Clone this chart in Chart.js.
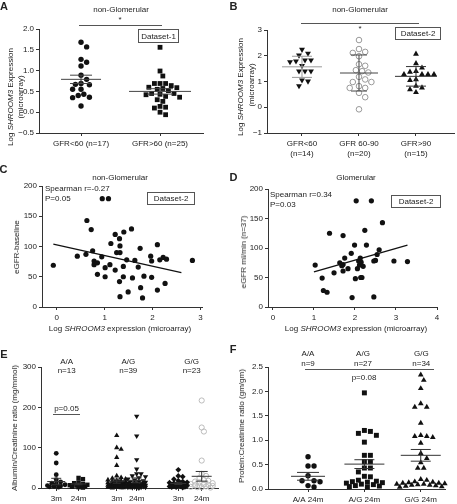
<!DOCTYPE html>
<html lang="en">
<head>
<meta charset="UTF-8">
<title>SHROOM3 expression panels</title>
<script src="https://cdn.jsdelivr.net/npm/chart.js"></script>
<style>
  body { margin: 0; width: 457px; height: 504px; position: relative; background: #fff; overflow: hidden;
         font-family: "Liberation Sans", Arial, sans-serif; color: #222; }
  canvas { position: absolute; }
  .t { position: absolute; font-size: 8px; line-height: 1; white-space: nowrap; transform: translate(-50%, -50%); }
  .tl { position: absolute; font-size: 8px; line-height: 1; white-space: nowrap; transform: translate(0, -50%); }
  .lbl { position: absolute; font-size: 11px; font-weight: bold; line-height: 1; transform: translate(-50%, -50%); }
  .rot { position: absolute; font-size: 8px; line-height: 1; white-space: nowrap; transform: translate(-50%, -50%) rotate(-90deg); }
  .box { position: absolute; border: 1px solid #555; font-size: 8px; box-sizing: border-box;
         display: flex; align-items: center; justify-content: center; }
  .bar { position: absolute; height: 0; border-top: 1px solid #555; }
</style>
</head>
<body>
<script>
// ---------- data ----------
// A: non-glomerular, dataset 1
const aCats = ['GFR<60 (n=17)', 'GFR>60 (n=25)'];
const aLow = [1.68, 1.57, 1.27, 1.20, 1.11, 0.89, 0.79, 0.66, 0.67, 0.69, 0.55, 0.55, 0.43, 0.40, 0.36, 0.35, 0.15];
const aHigh = [1.56, 0.99, 0.87, 0.69, 0.69, 0.69, 0.64, 0.60, 0.59, 0.57, 0.55, 0.52, 0.45, 0.45, 0.43,
               0.42, 0.38, 0.36, 0.30, 0.26, 0.14, 0.12, 0.10, 0.00, -0.06];
const aMean = [0.79, 0.50];
const aSem = [0.10, 0.065];

// B: non-glomerular, dataset 2
const bCats = [['GFR<60', '(n=14)'], ['GFR 60-90', '(n=20)'], ['GFR>90', '(n=15)']];
const bLow = [2.24, 2.09, 2.02, 1.83, 1.79, 1.83, 1.76, 1.61, 1.40, 1.40, 1.40, 1.05, 1.01, 0.83];
const bMid = [2.61, 2.26, 2.11, 2.15, 1.98, 1.67, 1.61, 1.44, 1.40, 1.35, 1.18, 1.08, 0.98, 0.98, 0.82,
              0.75, 0.75, 0.56, 0.39, -0.08];
const bHigh = [2.07, 1.70, 1.53, 1.28, 1.28, 1.28, 1.37, 1.28, 1.40, 1.05, 1.08, 0.82, 0.76, 0.69, 0.58];
const bMean = [1.57, 1.33, 1.20];
const bSd = [0.41, 0.70, 0.38];

// C: non-glomerular expression vs eGFR
const cX = [-0.07, 0.43, 0.61, 0.63, 0.72, 0.75, 0.78, 0.78, 0.85, 0.85, 0.94, 0.95, 1.08, 1.01, 1.01, 1.11,
            1.13, 1.22, 1.22, 1.25, 1.32, 1.31, 1.32, 1.31, 1.32, 1.40, 1.39, 1.39, 1.46, 1.49, 1.56, 1.58,
            1.63, 1.70, 1.74, 1.75, 1.79, 1.82, 1.96, 1.98, 1.98, 2.10, 2.10, 2.15, 2.22, 2.29, 2.26, 2.83];
const cY = [69, 84, 87, 143, 128, 93, 76, 70, 73, 54, 83, 179, 179, 50, 65, 70,
            105, 61, 120, 90, 90, 113, 101, 42, 17, 124, 67, 50, 78, 25, 129, 48,
            77, 66, 97, 32, 15, 51, 84, 76, 49, 103, 28, 78, 82, 79, 39, 77];
const cFitX = [-0.07, 2.6];
const cFitY = [104, 57];

// D: glomerular expression vs eGFR
const dX = [1.03, 1.20, 1.23, 1.32, 1.38, 1.49, 1.63, 1.71, 1.71, 1.71, 1.75, 1.83, 1.91, 1.93, 1.99, 2.01,
            2.03, 2.06, 2.09, 2.11, 2.13, 2.14, 2.17, 2.20, 2.24, 2.28, 2.40, 2.46, 2.46, 2.50, 2.54, 2.59,
            2.67, 2.95, 3.28, 2.15, 1.68];
const dY = [71, 49, 28, 25, 125, 58, 75, 121, 72, 61, 83, 65, 91, 16, 105, 48,
            180, 65, 78, 71, 83, 50, 50, 69, 130, 105, 180, 17, 78, 79, 89, 97,
            143, 78, 77, 76, 70];
const dFitX = [1.0, 3.28];
const dFitY = [59.5, 105];

// E: albumin/creatinine by genotype, 3m and 24m
const eGroups = [['A/A', 'n=13'], ['A/G', 'n=39'], ['G/G', 'n=23']];
const eTicks = ['3m', '24m', '3m', '24m', '3m', '24m'];
const eAA3 = [86, 62, 33, 21, 15, 12, 10, 8, 6, 5, 4, 3, 2];
const eAA24 = [25, 22, 14, 12, 10, 8, 7, 6, 5, 4, 3, 2, 1];
const eAG3 = [130, 100, 96, 76, 56, 30, 26, 24, 22, 20, 19, 18, 17, 16, 15, 14, 13, 12, 11, 10,
              10, 9, 8, 8, 7, 7, 6, 6, 5, 5, 4, 4, 3, 3, 2, 2, 1, 1, 0];
const eAG24 = [178, 129, 70, 47, 35, 35, 30, 28, 25, 22, 20, 18, 16, 15, 14, 13, 12, 11, 10, 9,
               9, 8, 8, 7, 7, 6, 6, 5, 5, 4, 4, 3, 3, 2, 2, 2, 1, 1, 0];
const eGG3 = [45, 30, 28, 22, 18, 16, 14, 13, 12, 11, 10, 9, 8, 7, 6, 6, 5, 4, 4, 3, 2, 2, 1];
const eGG24 = [217, 150, 140, 68, 35, 30, 25, 20, 18, 16, 14, 12, 10, 9, 8, 7, 6, 5, 4, 3, 2, 2, 1];
const eMean = [16, 10, 17, 19, 11, 29];
const eSem = [8, 2, 5, 6, 2, 12];

// F: protein/creatinine at 24m
const fCats = ['A/A 24m', 'A/G 24m', 'G/G 24m'];
const fGroups = [['A/A', 'n=9'], ['A/G', 'n=27'], ['G/G', 'n=34']];
const fAA = [0.66, 0.47, 0.47, 0.27, 0.17, 0.15, 0.17, 0.04, 0.07];
const fAG = [1.97, 1.20, 1.18, 1.14, 1.10, 0.96, 0.69, 0.69, 0.56, 0.56, 0.43, 0.43, 0.35, 0.26, 0.25,
             0.18, 0.16, 0.15, 0.14, 0.13, 0.12, 0.10, 0.09, 0.07, 0.06, 0.05, 0.04];
const fGG = [2.34, 2.23, 2.06, 1.75, 1.68, 1.68, 1.35, 1.10, 1.08, 1.06, 1.08, 0.94, 0.73, 0.63, 0.54,
             0.43, 0.43, 0.20, 0.18, 0.15, 0.14, 0.13, 0.12, 0.12, 0.11, 0.10, 0.10, 0.09, 0.08, 0.08,
             0.07, 0.06, 0.05, 0.04];
const fMean = [0.26, 0.51, 0.69];
const fSem = [0.08, 0.09, 0.12];

// ---------- helpers ----------
const FONT = { family: "'Liberation Sans', Arial, sans-serif", size: 8 };
const INK = '#111';
const minus = s => String(s).replace('-', '\u2212');

function put(cls, x, y, html, w, h) {
  const d = document.createElement('div');
  d.className = cls;
  d.style.left = x + 'px';
  d.style.top = y + 'px';
  if (w) d.style.width = w + 'px';
  if (h) d.style.height = h + 'px';
  d.innerHTML = html;
  document.body.appendChild(d);
  return d;
}
function bar(x1, x2, y) { put('bar', x1, y, '', x2 - x1); }

// pixel scale of a panel
function px(area, xr, yr) {
  return { x: (area[2] - area[0]) / (xr.max - xr.min), y: (area[3] - area[1]) / (yr.max - yr.min) };
}

// Prism-like dot placement: spread points of similar value sideways
function swarm(vals, c, p, d, maxHalf) {
  const placed = [];
  const out = new Array(vals.length);
  const order = vals.map((v, i) => i).sort((a, b) => vals[b] - vals[a]);
  for (const i of order) {
    const py = vals[i] * p.y;
    let best = 0, score = -1;
    for (let k = 0; k <= 60; k++) {
      const off = (k % 2 ? 1 : -1) * Math.ceil(k / 2) * d * 0.5;
      if (Math.abs(off) > maxHalf) continue;
      let m = Infinity;
      for (const q of placed) m = Math.min(m, Math.hypot(q.x - off, q.y - py));
      if (m >= d) { best = off; break; }
      if (m > score) { score = m; best = off; }
    }
    placed.push({ x: best, y: py });
    out[i] = { x: c + best / p.x, y: vals[i] };
  }
  return out;
}

function dots(data, style, r, extra) {
  return Object.assign({ data, pointStyle: style, pointRadius: r, backgroundColor: INK, borderColor: INK,
                         borderWidth: 0, clip: false, order: 1 }, extra || {});
}

// mean line + error caps + stem, one dataset per group
function errBars(centers, means, errs, p, wMean, wCap, colors) {
  return centers.map((c, i) => {
    const m = means[i], e = errs[i], hm = wMean[i] / p.x, hc = wCap[i] / p.x;
    const gap = { x: null, y: null };
    return {
      data: [{ x: c - hm, y: m }, { x: c + hm, y: m }, gap,
             { x: c - hc, y: m + e }, { x: c + hc, y: m + e }, gap,
             { x: c - hc, y: m - e }, { x: c + hc, y: m - e }, gap,
             { x: c, y: m - e }, { x: c, y: m + e }],
      showLine: true, pointRadius: 0, borderColor: colors[i], borderWidth: 1, clip: false, order: 0
    };
  });
}

function fitLine(xs, ys) {
  return { data: xs.map((x, i) => ({ x, y: ys[i] })), showLine: true, pointRadius: 0,
           borderColor: INK, borderWidth: 1.3, order: 0 };
}

// box = [left, top, w, h] of canvas, area = [l, t, r, b] of plot region (page px)
function makeChart(box, area, xr, yr, datasets) {
  const cv = document.createElement('canvas');
  cv.width = box[2]; cv.height = box[3];
  cv.style.left = box[0] + 'px'; cv.style.top = box[1] + 'px';
  document.body.appendChild(cv);
  const axis = (r, isX) => ({
    type: 'linear', min: r.min, max: r.max,
    afterBuildTicks: s => { s.ticks = r.ticks.map(v => ({ value: v })); },
    afterFit: s => { if (isX) s.height = box[1] + box[3] - area[3]; else s.width = area[0] - box[0]; },
    ticks: { callback: (v, i) => r.labels ? r.labels[i] : r.fmt(v), font: FONT, color: '#222',
             padding: isX ? 3 : 2, maxRotation: 0, autoSkip: false },
    grid: { drawOnChartArea: false, tickLength: 3, color: '#333', lineWidth: 1 },
    border: { color: '#333', width: 1 }
  });
  return new Chart(cv, {
    type: 'scatter',
    data: { datasets },
    options: {
      responsive: false, animation: false, events: [],
      layout: { autoPadding: false,
                padding: { left: 0, top: area[1] - box[1], right: box[0] + box[2] - area[2], bottom: 0 } },
      plugins: { legend: { display: false }, tooltip: { enabled: false } },
      scales: { x: axis(xr, true), y: axis(yr, false) }
    }
  });
}

const ylabel = 'Log <i>SHROOM3</i> Expression';

// ---------- A ----------
{
  const area = [39, 29, 203, 133];
  const xr = { min: 0.468, max: 2.544, ticks: [1, 2], labels: aCats };
  const yr = { min: -0.5, max: 2, ticks: [-0.5, 0, 0.5, 1, 1.5, 2], fmt: v => minus(v.toFixed(1)) };
  const p = px(area, xr, yr);
  makeChart([0, 0, 215, 160], area, xr, yr, [
    ...errBars([1, 2], aMean, aSem, p, [20, 31], [11, 13], ['#444', '#444']),
    dots(swarm(aLow, 1, p, 5.6, 20), 'circle', 2.7),
    dots(swarm(aHigh, 2, p, 5.6, 27), 'rect', 3.4)
  ]);
  put('lbl', 4, 6, 'A');
  put('t', 121, 10, 'non-Glomerular');
  put('t', 120, 20, '*');
  bar(79, 162, 25);
  put('box', 138, 29, 'Dataset-1', 41, 14);
  put('rot', 10.5, 97, ylabel);
  put('rot', 20.5, 97, '(microarray)');
}

// ---------- B ----------
{
  const area = [267, 30, 454, 133];
  const xr = { min: 0.386, max: 3.667, ticks: [1, 2, 3], labels: bCats };
  const yr = { min: -1, max: 3, ticks: [-1, 0, 1, 2, 3], fmt: v => minus(v) };
  const p = px(area, xr, yr);
  makeChart([228, 0, 229, 165], area, xr, yr, [
    ...errBars([1, 2, 3], bMean, bSd, p, [20, 19, 21], [10, 8, 10], ['#999', '#444', '#333']),
    dots(swarm(bLow, 1, p, 6, 16), 'triangle', 3.4, { rotation: 180 }),
    dots(swarm(bMid, 2, p, 6.2, 16), 'circle', 2.8,
         { backgroundColor: 'rgba(255,255,255,0)', borderColor: '#999', borderWidth: 1 }),
    dots(swarm(bHigh, 3, p, 6, 18), 'triangle', 3.4)
  ]);
  put('lbl', 233.5, 6, 'B');
  put('t', 360, 10, 'non-Glomerular');
  bar(301, 419, 23);
  put('t', 360, 29, '*');
  put('box', 395, 27, 'Dataset-2', 46, 13);
  put('rot', 241, 87, ylabel);
  put('rot', 252, 85, '(microarray)');
}

// ---------- C ----------
{
  const area = [42, 186, 202, 307];
  const xr = { min: -0.306, max: 3.03, ticks: [0, 1, 2, 3], fmt: v => v };
  const yr = { min: 0, max: 200, ticks: [0, 50, 100, 150, 200], fmt: v => v };
  makeChart([0, 165, 215, 175], area, xr, yr, [
    fitLine(cFitX, cFitY),
    dots(cX.map((x, i) => ({ x, y: cY[i] })), 'circle', 2.6)
  ]);
  put('lbl', 3.5, 169, 'C');
  put('t', 120, 178, 'non-Glomerular');
  put('tl', 45, 189, 'Spearman r=-0.27');
  put('tl', 45, 198.5, 'P=0.05');
  put('box', 147, 192, 'Dataset-2', 48, 13);
  put('rot', 17, 247, 'eGFR-baseline');
  put('t', 120, 329, 'Log <i>SHROOM3</i> expression (microarray)');
}

// ---------- D ----------
{
  const area = [268, 189, 437, 307];
  const xr = { min: -0.12, max: 4, ticks: [0, 1, 2, 3, 4], fmt: v => v };
  const yr = { min: 0, max: 200, ticks: [0, 50, 100, 150, 200], fmt: v => v };
  makeChart([228, 165, 229, 175], area, xr, yr, [
    fitLine(dFitX, dFitY),
    dots(dX.map((x, i) => ({ x, y: dY[i] })), 'circle', 2.6)
  ]);
  put('lbl', 233.5, 177, 'D');
  put('t', 356, 178, 'Glomerular');
  put('tl', 270, 195, 'Spearman r=0.34');
  put('tl', 270, 204.5, 'P=0.03');
  put('box', 391, 195, 'Dataset-2', 50, 13);
  put('rot', 244, 252, 'eGFR ml/min (n=37)');
  put('t', 356, 329, 'Log <i>SHROOM3</i> expression (microarray)');
}

// ---------- E ----------
{
  const area = [41, 367, 218, 488];
  const pos = [1, 2.04, 3.82, 4.75, 6.69, 7.78];
  const xr = { min: 0.29, max: 8.54, ticks: pos, labels: eTicks };
  const yr = { min: 0, max: 300, ticks: [0, 100, 200, 300], fmt: v => v };
  const p = px(area, xr, yr);
  const d = 4.4, w = 10;
  makeChart([0, 335, 228, 169], area, xr, yr, [
    ...errBars(pos, eMean, eSem, p, [9, 8, 8, 9, 8, 10], [5, 4, 4, 5, 4, 6], Array(6).fill('#333')),
    dots(swarm(eAA3, pos[0], p, d, w), 'circle', 2.4),
    dots(swarm(eAA24, pos[1], p, d, w), 'rect', 3.1),
    dots(swarm(eAG3, pos[2], p, d, w), 'triangle', 3.1),
    dots(swarm(eAG24, pos[3], p, d, w), 'triangle', 3.1, { rotation: 180 }),
    dots(swarm(eGG3, pos[4], p, d, w), 'rectRot', 2.9),
    dots(swarm(eGG24, pos[5], p, d, w + 2), 'circle', 2.6,
         { backgroundColor: 'rgba(255,255,255,0)', borderColor: '#bbb', borderWidth: 1 })
  ]);
  put('lbl', 4, 354, 'E');
  [66.7, 128.3, 191.7].forEach((x, i) => {
    put('t', x, 362, eGroups[i][0]);
    put('t', x, 371, eGroups[i][1]);
  });
  put('t', 66.5, 408.5, 'p=0.05');
  bar(53, 80, 414);
  put('rot', 15, 428, 'Albumin/Creatinine ratio (mg/mmol)');
}

// ---------- F ----------
{
  const area = [268, 367, 445, 489];
  const xr = { min: 0.29, max: 3.43, ticks: [1, 2, 3], labels: fCats };
  const yr = { min: 0, max: 2.5, ticks: [0, 0.5, 1, 1.5, 2, 2.5], fmt: v => v.toFixed(1) };
  const p = px(area, xr, yr);
  makeChart([228, 335, 229, 169], area, xr, yr, [
    ...errBars([1, 2, 3], fMean, fSem, p, [17, 20, 20], [11, 10, 10], ['#333', '#333', '#333']),
    dots(swarm(fAA, 1, p, 6, 20), 'circle', 2.7),
    dots(swarm(fAG, 2, p, 6, 20), 'rect', 3.5),
    dots(swarm(fGG, 3, p, 6, 25), 'triangle', 3.3)
  ]);
  put('lbl', 233, 349, 'F');
  [308, 363, 421.3].forEach((x, i) => {
    put('t', x, 354, fGroups[i][0]);
    put('t', x, 363.5, fGroups[i][1]);
  });
  bar(305, 434, 369);
  put('t', 364, 378, 'p=0.08');
  put('rot', 242, 426, 'Protein:Creatinine ratio (gm/gm)');
}
</script>
</body>
</html>
